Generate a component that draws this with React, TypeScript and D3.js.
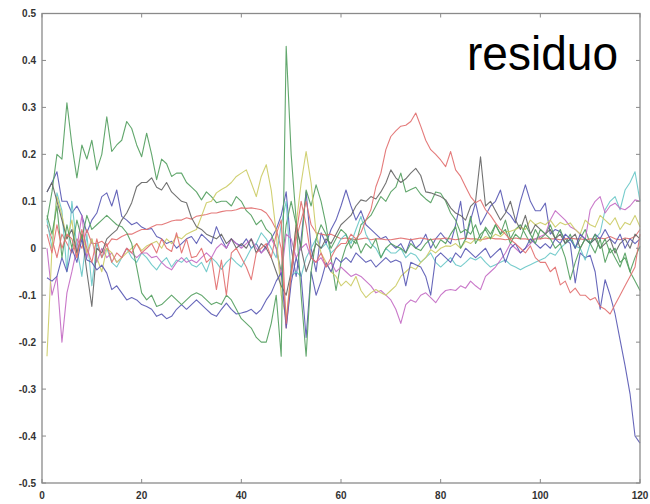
import React from "react";
import * as d3 from "d3";

const xTicks = [0, 20, 40, 60, 80, 100, 120];
const yTicks = [0.5, 0.4, 0.3, 0.2, 0.1, 0, -0.1, -0.2, -0.3, -0.4, -0.5];

const blueA = [
  0.12, 0.14, 0.163, 0.10, 0.10, 0.075, 0.09, 0.07, 0.033, 0.06,
  0.075, 0.11, 0.118, 0.09, 0.124, 0.068, 0.06, 0.05, 0.055, 0.045,
  0.04, 0.042, 0.025, 0.02, 0.01, 0.015, 0.0, 0.01, 0.02, 0.025,
  0.01, 0.03, 0.02, 0.01, 0.046, 0.02, 0.0, 0.02, 0.01, 0.005,
  0.02, 0.0, 0.01, -0.01, 0.005, 0.02, 0.04, 0.07, 0.12, 0.0,
  -0.06, 0.02, 0.12, 0.0, -0.05, 0.033, 0.01, 0.04, 0.06, 0.09,
  0.124, 0.09, 0.06, 0.08, 0.05, 0.04, 0.03, 0.02, 0.025, 0.01,
  0.0, 0.01, -0.01, 0.02, 0.0, 0.01, 0.03, 0.0, 0.02, 0.033,
  0.02, 0.01, 0.05, 0.1, 0.018, 0.06, 0.097, 0.05, 0.07, 0.09,
  0.1, 0.124, 0.08, 0.07, 0.054, 0.1, 0.135, 0.1, 0.08, 0.08,
  0.096, 0.03, 0.04, 0.035, 0.02, 0.01, -0.074, -0.01, -0.02, -0.015,
  -0.05, -0.13, -0.067, -0.1, -0.14, -0.195, -0.25, -0.31, -0.4, -0.415,
];

const greenA = [
  0.06, 0.12, 0.2, 0.19, 0.31, 0.22, 0.15, 0.22, 0.19, 0.23,
  0.167, 0.2, 0.28, 0.206, 0.22, 0.23, 0.27, 0.255, 0.22, 0.195,
  0.245, 0.2, 0.146, 0.19, 0.18, 0.153, 0.16, 0.16, 0.14, 0.13,
  0.12, 0.103, 0.12, 0.11, 0.097, 0.1, 0.1, 0.09, 0.11, 0.1,
  0.08, 0.07, 0.05, 0.06, 0.04, 0.03, 0.0, -0.05, 0.05, 0.1,
  0.05, 0.0, 0.124, 0.09, 0.135, 0.1, 0.05, -0.02, -0.09, -0.03,
  0.004, 0.02, 0.01, 0.05, 0.06, 0.07, 0.09, 0.11, 0.1, 0.12,
  0.13, 0.16, 0.12, 0.125, 0.13, 0.115, 0.105, 0.097, 0.12, 0.117,
  0.1, 0.075, 0.06, 0.033, 0.04, 0.03, 0.05, 0.02, 0.045, 0.03,
  0.05, 0.03, 0.06, 0.02, 0.04, 0.05, 0.03, 0.01, 0.04, 0.02,
  0.03, 0.05, 0.02, 0.04, 0.01, 0.03, 0.0, 0.02, 0.04, 0.01,
  -0.01, 0.02, -0.03, 0.0, -0.02, -0.04, -0.01, -0.05, -0.07, -0.09,
];

const redA = [
  0.05, 0.02, -0.02, 0.03, 0.01, -0.01, 0.02, 0.0, 0.04, 0.01,
  0.01, 0.015, 0.005, 0.02, 0.018, 0.025, 0.03, 0.03, 0.035, 0.04,
  0.04, 0.045, 0.05, 0.05, 0.054, 0.058, 0.06, 0.06, 0.065, 0.062,
  0.068, 0.07, 0.072, 0.075, 0.075, 0.078, 0.08, 0.08, 0.082, 0.086,
  0.085, 0.086, 0.084, 0.082, 0.075, 0.06, 0.04, 0.0, -0.17, -0.06,
  0.02, 0.06, 0.1, 0.05, 0.033, 0.03, 0.028, 0.03, 0.025, 0.02,
  0.022, 0.02, 0.018, 0.02, 0.022, 0.018, 0.02, 0.02, 0.018, 0.018,
  0.02, 0.022, 0.02, 0.018, 0.02, 0.022, 0.02, 0.018, 0.02, 0.02,
  0.022, 0.02, 0.018, 0.02, 0.022, 0.02, 0.02, 0.018, 0.02, 0.022,
  0.02, 0.02, 0.018, 0.02, 0.022, 0.02, 0.02, 0.018, 0.02, 0.02,
  0.022, 0.02, 0.02, 0.018, 0.02, 0.022, 0.02, 0.02, 0.018, 0.02,
  0.02, 0.022, 0.02, 0.025, 0.02, 0.018, 0.022, 0.02, 0.025, 0.04,
];

const cyan = [
  0.06, 0.0, 0.118, 0.08, -0.05, 0.1, 0.0, -0.06, 0.03, -0.08,
  0.011, -0.02, 0.0, -0.03, -0.04, -0.02, 0.0, -0.02, -0.03, -0.01,
  -0.02, -0.035, -0.046, -0.03, -0.02, -0.04, -0.025, -0.03, -0.02, -0.035,
  -0.04, -0.03, -0.05, -0.02, -0.03, -0.045, -0.03, -0.02, -0.031, -0.04,
  -0.02, 0.0, 0.01, 0.033, 0.02, 0.0, -0.02, 0.05, 0.1, -0.06,
  -0.05, -0.06, -0.02, 0.0, 0.02, 0.0, 0.01, -0.01, 0.0, 0.02,
  0.03, 0.01, 0.04, 0.068, 0.03, 0.01, 0.0, -0.02, 0.0, -0.01,
  -0.01, 0.0, -0.02, -0.01, -0.015, -0.03, -0.02, -0.01, -0.03, -0.04,
  -0.03, -0.02, -0.035, -0.039, -0.03, -0.02, -0.025, -0.018, -0.03, -0.04,
  -0.035, -0.03, -0.025, -0.035, -0.04, -0.046, -0.04, -0.035, -0.03, -0.025,
  -0.02, -0.01, -0.015, 0.0, 0.01, 0.018, 0.005, 0.0, -0.025, 0.011,
  0.02, 0.033, 0.082, 0.1, 0.11, 0.082, 0.124, 0.14, 0.163, 0.1,
];

const magenta = [
  0.0, -0.1, -0.06, -0.2, -0.095, -0.05, 0.0, 0.07, -0.02, 0.02,
  -0.03, 0.0, -0.02, -0.01, -0.03, -0.02, 0.0, -0.01, -0.02, -0.01,
  -0.01, -0.02, -0.017, -0.03, -0.04, -0.046, -0.03, -0.02, -0.03, -0.025,
  -0.031, -0.02, -0.01, -0.02, 0.0, 0.01, 0.0, 0.02, 0.01, 0.0,
  0.01, 0.02, 0.0, -0.01, 0.0, 0.02, 0.0, -0.06, 0.03, 0.02,
  -0.02, 0.0, 0.01, -0.02, -0.03, -0.02, -0.04, -0.03, -0.05, -0.04,
  -0.05, -0.06, -0.055, -0.06, -0.07, -0.08, -0.095, -0.09, -0.1, -0.11,
  -0.13, -0.16, -0.12, -0.11, -0.115, -0.1, -0.095, -0.105, -0.116, -0.1,
  -0.09, -0.088, -0.09, -0.08, -0.085, -0.07, -0.08, -0.088, -0.06, -0.05,
  -0.04, -0.025, -0.01, 0.01, 0.0, -0.01, 0.0, 0.01, 0.02, 0.025,
  0.03, 0.06, 0.08, 0.07, 0.06, 0.046, 0.04, 0.03, 0.018, 0.082,
  0.1, 0.11, 0.075, 0.09, 0.096, 0.085, 0.082, 0.09, 0.103, 0.1,
];

const yellow = [
  -0.23, 0.0, 0.11, 0.07, 0.02, 0.06, -0.02, 0.03, -0.01, 0.02,
  -0.02, -0.05, 0.0, -0.01, -0.03, -0.02, -0.01, 0.0, 0.01, -0.005,
  0.005, 0.01, 0.015, 0.0, 0.02, 0.01, 0.025, 0.02, 0.03, 0.035,
  0.04, 0.068, 0.097, 0.1, 0.118, 0.125, 0.131, 0.14, 0.153, 0.16,
  0.167, 0.139, 0.11, 0.153, 0.178, 0.124, 0.033, -0.1, -0.15, -0.05,
  0.05, 0.139, 0.206, 0.139, 0.033, -0.01, -0.03, -0.05, -0.06, -0.08,
  -0.07, -0.08, -0.06, -0.09, -0.105, -0.095, -0.088, -0.095, -0.1, -0.09,
  -0.08, -0.06, -0.05, -0.04, -0.045, -0.03, -0.02, -0.003, -0.01, 0.0,
  0.005, 0.004, 0.01, 0.0, 0.015, 0.01, 0.02, 0.015, 0.025, 0.02,
  0.03, 0.025, 0.035, 0.036, 0.04, 0.045, 0.04, 0.06, 0.05, 0.055,
  0.05, 0.06, 0.045, 0.055, 0.05, 0.054, 0.04, 0.03, 0.06, 0.05,
  0.045, 0.07, 0.06, 0.05, 0.065, 0.04, 0.055, 0.05, 0.07, 0.046,
];

const gray = [
  0.12, 0.14, 0.1, 0.06, 0.02, 0.04, -0.01, 0.03, -0.05, -0.124,
  0.0, -0.01, 0.02, 0.03, 0.039, 0.06, 0.075, 0.097, 0.131, 0.14,
  0.14, 0.15, 0.13, 0.124, 0.14, 0.12, 0.11, 0.1, 0.097, 0.065,
  0.046, 0.04, 0.03, 0.025, 0.02, 0.03, 0.01, 0.02, 0.0, 0.01,
  0.0, 0.02, -0.01, 0.01, 0.0, -0.02, -0.05, -0.08, -0.1, -0.05,
  0.05, 0.0, -0.05, -0.02, 0.01, 0.0, 0.02, 0.01, 0.03, 0.05,
  0.06, 0.07, 0.09, 0.103, 0.1, 0.11, 0.105, 0.12, 0.139, 0.167,
  0.15, 0.14, 0.148, 0.16, 0.17, 0.155, 0.12, 0.118, 0.114, 0.11,
  0.103, 0.086, 0.075, 0.07, 0.06, 0.089, 0.1, 0.195, 0.09, 0.1,
  0.08, 0.06, 0.075, 0.1, 0.06, 0.04, 0.07, 0.03, 0.05, 0.04,
  0.03, 0.04, 0.02, 0.03, 0.01, 0.02, 0.03, 0.0, 0.02, 0.01,
  0.02, 0.0, 0.01, 0.02, -0.01, 0.01, 0.02, 0.0, 0.03, 0.02,
];

const blueB = [
  -0.063, -0.07, -0.06, -0.02, -0.05, 0.0, -0.03, 0.02, -0.025, -0.03,
  -0.046, -0.036, -0.053, -0.088, -0.08, -0.095, -0.11, -0.105, -0.11, -0.12,
  -0.124, -0.13, -0.145, -0.14, -0.15, -0.145, -0.13, -0.12, -0.13, -0.12,
  -0.11, -0.12, -0.13, -0.14, -0.145, -0.13, -0.117, -0.13, -0.14, -0.138,
  -0.135, -0.13, -0.14, -0.13, -0.11, -0.095, -0.07, -0.052, -0.17, -0.074,
  -0.02, -0.06, -0.19, -0.05, -0.1, -0.07, -0.031, -0.05, -0.02, -0.03,
  -0.02, -0.03, -0.01, -0.02, -0.03, -0.025, -0.04, -0.03, -0.02, -0.03,
  -0.025, -0.03, -0.08, -0.03, -0.035, -0.04, -0.06, -0.1, -0.02, -0.01,
  -0.02, -0.03, -0.01, -0.02, 0.0, -0.01, -0.02, -0.01, 0.0, -0.02,
  -0.01, 0.0, -0.03, 0.0, 0.01, -0.01, 0.0, 0.02, 0.01, 0.0,
  0.01, 0.0, 0.02, 0.01, 0.03, 0.02, 0.0, 0.03, 0.02, 0.01,
  0.03, 0.02, 0.04, 0.02, 0.01, 0.03, 0.0, 0.02, 0.01, 0.02,
];

const greenB = [
  0.07, 0.03, 0.09, -0.02, 0.05, 0.0, 0.06, 0.02, 0.07, 0.04,
  0.05, 0.06, 0.07, 0.06, 0.05, 0.046, 0.033, 0.01, -0.04, -0.095,
  -0.11, -0.1, -0.124, -0.12, -0.11, -0.1, -0.11, -0.12, -0.11, -0.1,
  -0.095, -0.1, -0.11, -0.12, -0.115, -0.12, -0.1, -0.11, -0.13, -0.15,
  -0.16, -0.17, -0.19, -0.2, -0.2, -0.16, -0.1, -0.23, 0.43, 0.2,
  0.06, -0.1, -0.23, -0.05, 0.02, 0.05, 0.03, 0.0, 0.02, 0.04,
  0.03, 0.0, 0.02, -0.01, 0.01, 0.0, 0.02, -0.02, 0.0, 0.01,
  0.004, 0.0, -0.01, 0.01, 0.0, -0.005, 0.01, 0.02, 0.0, 0.018,
  0.01, 0.03, 0.046, 0.0, 0.02, 0.068, 0.01, 0.03, 0.04, 0.02,
  0.05, 0.03, 0.04, 0.01, 0.03, 0.02, 0.05, 0.03, 0.01, 0.04,
  0.03, 0.02, 0.0, 0.01, -0.02, -0.067, -0.03, 0.0, 0.02, 0.01,
  0.03, 0.0, 0.02, -0.01, 0.0, -0.03, -0.02, -0.05, -0.02, 0.004,
];

const redB = [
  0.03, -0.01, 0.05, 0.0, 0.03, 0.02, -0.02, 0.04, 0.0, -0.03,
  0.02, -0.02, 0.01, -0.03, -0.01, -0.02, 0.0, -0.01, 0.01, -0.01,
  0.0, 0.01, -0.01, 0.02, 0.0, -0.007, 0.033, -0.01, 0.02, -0.02,
  -0.017, 0.0, -0.03, -0.02, -0.088, -0.025, -0.1, -0.01, 0.0, -0.02,
  -0.04, -0.067, -0.01, 0.0, 0.01, -0.02, 0.03, 0.06, -0.16, -0.05,
  0.03, 0.1, 0.05, -0.02, -0.03, -0.01, -0.04, -0.02, 0.0, 0.01,
  0.01, 0.03, 0.02, 0.033, 0.06, 0.082, 0.131, 0.16, 0.21, 0.238,
  0.25, 0.26, 0.262, 0.27, 0.288, 0.26, 0.23, 0.21, 0.2, 0.188,
  0.174, 0.206, 0.167, 0.153, 0.131, 0.11, 0.097, 0.103, 0.082, 0.07,
  0.054, 0.04, 0.03, 0.018, 0.01, 0.0, -0.01, 0.005, -0.02, -0.03,
  -0.03, -0.05, -0.04, -0.078, -0.07, -0.095, -0.085, -0.1, -0.1, -0.11,
  -0.105, -0.124, -0.13, -0.14, -0.12, -0.1, -0.08, -0.06, -0.04, 0.03,
];

const seriesList = [blueA, greenA, redA, cyan, magenta, yellow, gray, blueB, greenB, redB];
const seriesColors = [
  "#5a5ab4", "#55a061", "#e27070", "#6ac8c8", "#c46cc4",
  "#cccc66", "#666666", "#5a5ab4", "#55a061", "#e27070",
];

const W = 650;
const H = 504;
const L = 42, R = 640, T = 13.5, B = 483;

export default function App() {
  const x = d3.scaleLinear().domain([0, 120]).range([L, R]);
  const y = d3.scaleLinear().domain([-0.5, 0.5]).range([B, T]);
  const line = d3
    .line<number>()
    .x((_, i) => x(i + 1))
    .y((d) => y(d));
  const fmtY = (v: number) => (Math.abs(v) < 1e-9 ? "0" : v.toFixed(1));
  const tickLen = 4;
  const axisColor = "#8a8a8a";
  const labelStyle = {
    fontFamily: "'Liberation Sans', Arial, Helvetica, sans-serif",
    fontSize: 10,
    fontWeight: 700 as const,
    fill: "#333",
  };
  return (
    <svg
      width={W}
      height={H}
      style={{ position: "absolute", left: 0, top: 0, background: "#fff" }}
    >
      <rect x={0} y={0} width={W} height={H} fill="#fff" />
      <g>
        {seriesList.map((s, i) => (
          <path
            key={i}
            d={line(s) || ""}
            fill="none"
            stroke={seriesColors[i]}
            strokeWidth={1.1}
            strokeOpacity={0.92}
            strokeLinejoin="round"
          />
        ))}
      </g>
      <rect x={L} y={T} width={R - L} height={B - T} fill="none" stroke={axisColor} strokeWidth={1.3} />
      {xTicks.map((t) => (
        <g key={"x" + t}>
          <line x1={x(t)} x2={x(t)} y1={B} y2={B - tickLen} stroke={axisColor} strokeWidth={1} />
          <line x1={x(t)} x2={x(t)} y1={T} y2={T + tickLen} stroke={axisColor} strokeWidth={1} />
          <text x={x(t)} y={B + 16} textAnchor="middle" {...labelStyle}>
            {t}
          </text>
        </g>
      ))}
      {yTicks.map((t) => (
        <g key={"y" + t}>
          <line x1={L} x2={L + tickLen} y1={y(t)} y2={y(t)} stroke={axisColor} strokeWidth={1} />
          <line x1={R} x2={R - tickLen} y1={y(t)} y2={y(t)} stroke={axisColor} strokeWidth={1} />
          <text x={L - 6} y={y(t) + 3.5} textAnchor="end" {...labelStyle}>
            {fmtY(t)}
          </text>
        </g>
      ))}
      <text
        x={467}
        y={70}
        fontFamily="'Liberation Sans', Arial, Helvetica, sans-serif"
        fontSize={48}
        textLength={151}
        lengthAdjust="spacingAndGlyphs"
        fill="#000"
      >
        residuo
      </text>
    </svg>
  );
}
